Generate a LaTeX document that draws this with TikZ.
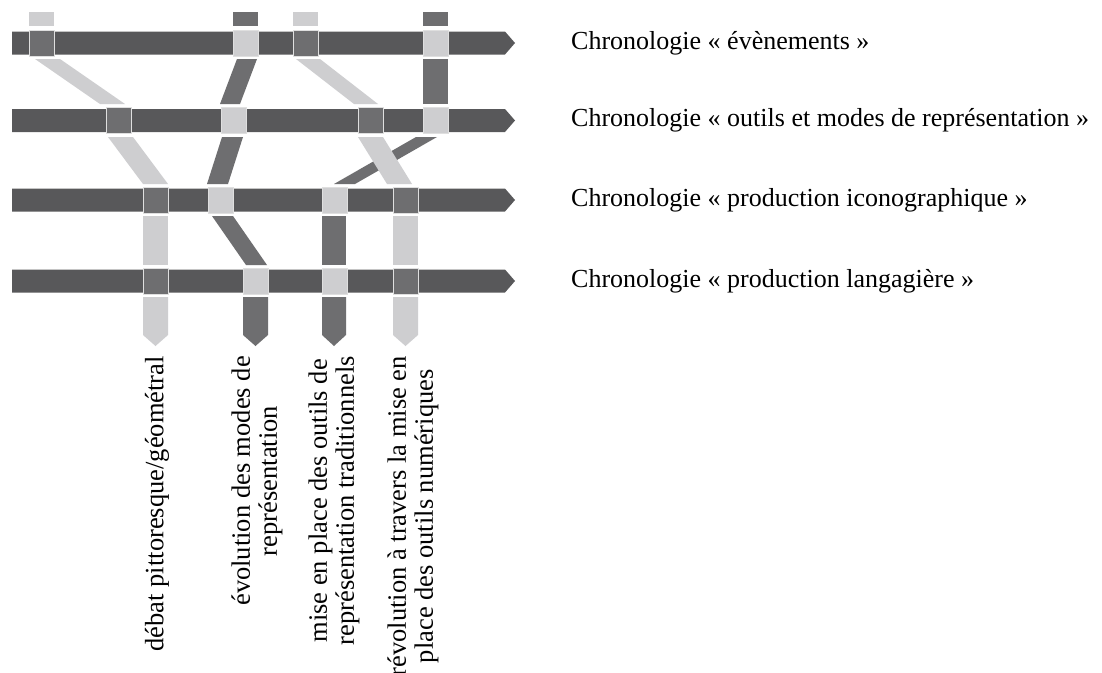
\documentclass[tikz,border=0pt]{standalone}
\usepackage{fontspec}
\setmainfont{Liberation Serif}
\definecolor{barc}{RGB}{88,88,90}
\definecolor{darkc}{RGB}{110,110,112}
\definecolor{lightc}{RGB}{206,206,208}
\newcommand\tlbar[1]{\fill[barc] (12,#1-11.5) -- (505,#1-11.5) -- (515,#1) -- (505,#1+11.5) -- (12,#1+11.5) -- cycle;}
\newcommand\tlsq[3]{\filldraw[#1,draw=white!75!gray,line width=0.5pt] (#2,#3-13) rectangle ++(25,26);}
% strip: color, top-left x, top y, bottom-left x, bottom y, width
\newcommand\tlstrip[6]{\fill[#1] (#2,#3) -- (#2+#6,#3) -- (#4+#6,#5) -- (#4,#5) -- cycle;}
\newcommand\tlout[3]{\fill[#1] (#2,297) -- (#2+#3,297) -- (#2+#3,335) -- (#2+#3/2,346) -- (#2,335) -- cycle;}
\begin{document}
\begin{tikzpicture}[x=1pt,y=-1pt,
  lab/.style={anchor=west,inner sep=0pt,font=\fontsize{26}{28}\selectfont},
  rot/.style={rotate=90,anchor=east,align=center,inner sep=0pt,font=\fontsize{26.5}{27}\selectfont}]
\useasboundingbox[fill=white] (0,0) rectangle (1102,672);
% top stubs
\fill[lightc] (29,12) rectangle ++(25,14);
\fill[darkc] (233,12) rectangle ++(25,14);
\fill[lightc] (293,12) rectangle ++(25,14);
\fill[darkc] (423,12) rectangle ++(25,14);
% bars
\tlbar{43}
\tlbar{120.5}
\tlbar{200}
\tlbar{281}
% row1 -> row2
\tlstrip{lightc}{35}{59}{100}{104}{25}
\tlstrip{darkc}{237}{59}{220}{104}{20}
\tlstrip{lightc}{296}{59}{354}{104}{24}
\tlstrip{darkc}{423}{59}{423}{104}{25}
% row2 -> row3
\tlstrip{lightc}{108}{137}{143}{184}{25}
\tlstrip{darkc}{222}{137}{207}{184}{21}
\tlstrip{darkc}{416}{137}{334}{184}{21}
\tlstrip{lightc}{358}{137}{387}{184}{25}
% row3 -> row4
\tlstrip{lightc}{143}{216}{143}{265}{25}
\tlstrip{darkc}{212}{216}{246}{265}{21}
\tlstrip{darkc}{322}{216}{322}{265}{24}
\tlstrip{lightc}{393}{216}{393}{265}{25}
% squares
\tlsq{darkc}{29}{43}
\tlsq{lightc}{233}{43}
\tlsq{darkc}{293}{43}
\tlsq{lightc}{423}{43}
\tlsq{darkc}{106}{120.5}
\tlsq{lightc}{221}{120.5}
\tlsq{darkc}{358}{120.5}
\tlsq{lightc}{423}{120.5}
\tlsq{darkc}{143}{200}
\tlsq{lightc}{208}{200}
\tlsq{lightc}{322}{200}
\tlsq{darkc}{393}{200}
\tlsq{darkc}{143}{281}
\tlsq{lightc}{243}{281}
\tlsq{lightc}{322}{281}
\tlsq{darkc}{393}{281}
% outputs
\tlout{lightc}{143}{25}
\tlout{darkc}{243}{25}
\tlout{darkc}{322}{24}
\tlout{lightc}{393}{25}
% labels
\node[lab] (c1) at (571,43) {Chronologie «~évènements~»};
\node[lab] (c2) at (571,120.5) {Chronologie «~outils et modes de représentation~»};
\node[lab] (c3) at (571,200) {Chronologie «~production iconographique~»};
\node[lab] (c4) at (571,281) {Chronologie «~production langagière~»};
\node[rot] (l1) at (157,356) {débat pittoresque/géométral};
\node[rot] (l2) at (257,356) {évolution des modes de\\représentation};
\node[rot] (l3) at (334,356) {mise en place des outils de\\représentation traditionnels};
\node[rot] (l4) at (413,356) {révolution à travers la mise en\\place des outils numériques};
\end{tikzpicture}
\end{document}
